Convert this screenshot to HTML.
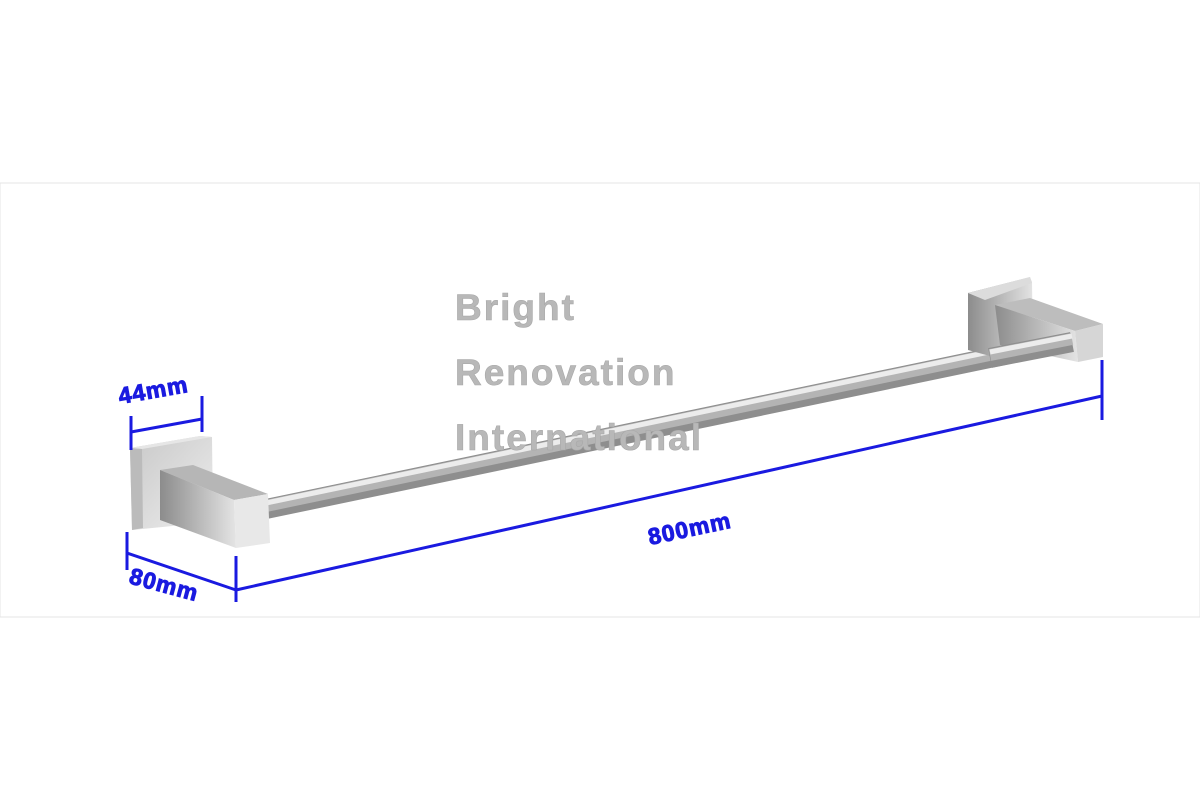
<!DOCTYPE html>
<html><head><style>body{margin:0;background:#fff}svg{display:block}</style></head><body>
<svg width="1200" height="800" xmlns="http://www.w3.org/2000/svg">
<defs>
<linearGradient id="pl" x1="0" y1="0" x2="1" y2="1"><stop offset="0" stop-color="#c8c8c8"/><stop offset="1" stop-color="#eeeeee"/></linearGradient>
<linearGradient id="sd" x1="0" y1="0" x2="1" y2="0"><stop offset="0" stop-color="#8c8c8c"/><stop offset="1" stop-color="#e4e4e4"/></linearGradient>
</defs>
<rect x="0" y="183" width="1200" height="434" fill="#fff" stroke="#e4e4e4"/>
<!-- bar -->
<g stroke-linecap="butt">
<line x1="266" y1="509" x2="1066" y2="342" stroke="#8e8e8e" stroke-width="20"/>
<line x1="266" y1="506" x2="1066" y2="339" stroke="#b4b4b4" stroke-width="12"/>
<line x1="266" y1="503" x2="1066" y2="336" stroke="#ececec" stroke-width="5"/>
</g>
<!-- left plate -->
<polygon points="130,448 200,436 212,437 213,522 132,530" fill="url(#pl)"/>
<polygon points="130,448 200,436 212,437 142,449" fill="#e6e6e6"/>
<polygon points="130,448 142,449 143,528 132,530" fill="#bbb"/>
<!-- left arm -->
<polygon points="160,470 193,465 268,494 234,500" fill="#b6b6b6"/>
<polygon points="160,470 234,500 236,548 160,520" fill="url(#sd)"/>
<polygon points="234,500 268,494 270,543 236,548" fill="#e8e8e8"/>
<!-- right plate -->
<polygon points="968,293 1030,277 1032,282 1033,350 990,356 968,350" fill="url(#sd)"/>
<polygon points="968,293 1030,277 1032,283 985,300" fill="#dcdcdc"/>
<!-- right arm -->
<polygon points="995,305 1030,298 1103,324 1075,331" fill="#bdbdbd"/>
<polygon points="995,305 1075,331 1078,362 1000,345" fill="url(#sd)"/>
<polygon points="1075,331 1103,324 1103,357 1078,362" fill="#d6d6d6"/>
<g>
<line x1="990" y1="358" x2="1072" y2="342" stroke="#8e8e8e" stroke-width="20"/>
<line x1="990" y1="355" x2="1072" y2="339" stroke="#b4b4b4" stroke-width="12"/>
<line x1="990" y1="352" x2="1072" y2="336" stroke="#ececec" stroke-width="5"/>
</g>
<g font-family="Liberation Sans, sans-serif" font-weight="bold" font-size="37" fill="#b8b8b8" letter-spacing="2" stroke="#a8a8a8" stroke-width=".6">
<text x="455" y="320">Bright</text><text x="455" y="385">Renovation</text><text x="455" y="450">International</text></g>
<!-- dimensions -->
<g stroke="#1a1ae0" stroke-width="3" fill="none">
<line x1="131" y1="416" x2="131" y2="450"/><line x1="202" y1="396" x2="202" y2="432"/><line x1="131" y1="432" x2="202" y2="419"/>
<line x1="127" y1="532" x2="127" y2="570"/><line x1="236" y1="556" x2="236" y2="602"/><line x1="127" y1="553" x2="236" y2="590"/>
<line x1="236" y1="590" x2="1102" y2="396"/><line x1="1102" y1="360" x2="1102" y2="420"/>
</g>
<g font-family="Liberation Sans, sans-serif" font-weight="bold" font-size="23" fill="#1a1ae0" stroke="#1a1ae0" stroke-width="1" letter-spacing="1">
<text transform="translate(120,404) rotate(-10)">44mm</text>
<text transform="translate(128,583) rotate(15)">80mm</text>
<text transform="translate(650,545) rotate(-12)">800mm</text>
</g>
</svg>
</body></html>
